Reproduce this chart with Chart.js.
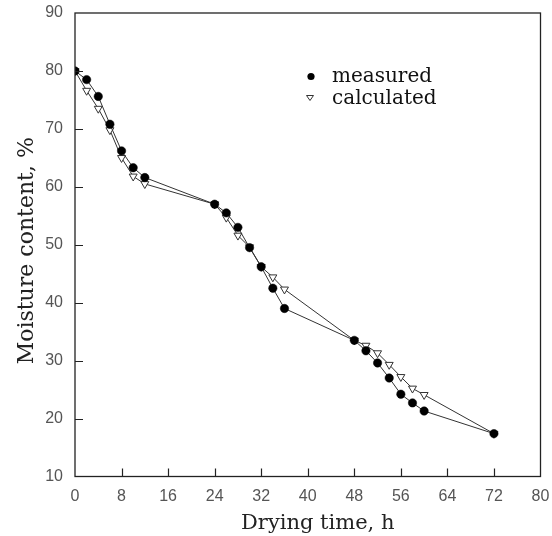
<!DOCTYPE html>
<html><head><meta charset="utf-8">
<script src="https://cdn.jsdelivr.net/npm/chart.js@4/dist/chart.umd.min.js"></script>
<style>html,body{margin:0;padding:0;background:#fff}#wrap{position:relative;width:552px;height:536px}</style>
</head><body><div id="wrap"><canvas id="c" width="552" height="536"></canvas></div>
<script>
// Data
const timeH = [0, 2, 4, 6, 8, 10, 12, 24, 26, 28, 30, 32, 34, 36, 48, 50, 52, 54, 56, 58, 60, 72];
const measured = [80, 78.5, 75.6, 70.8, 66.2, 63.3, 61.6, 57, 55.5, 53, 49.5, 46.2, 42.5, 39, 33.5, 31.7, 29.6, 27, 24.2, 22.7, 21.3, 17.4];
const calculated = [80, 76.6, 73.5, 69.8, 65, 61.8, 60.5, 57, 54.7, 51.6, 49.6, 46.2, 44.4, 42.3, 33.5, 32.6, 31.3, 29.3, 27.2, 25.2, 24.1, 17.4];
const seriesNames = ['measured', 'calculated'];
const xTitle = 'Drying time, h';
const yTitle = 'Moisture content, %';
const xRange = [0, 80, 8];
const yRange = [10, 90, 10];

const serif = "'DejaVu Serif', serif";
const sans = "'Liberation Sans', Arial, sans-serif";
const ink = '#222';

function pts(ys) { return timeH.map((t, i) => ({ x: t, y: ys[i] })); }

const frameAndTicks = {
  id: 'frameAndTicks',
  afterDraw(chart) {
    const { ctx, chartArea: a, scales } = chart;
    ctx.save();
    ctx.strokeStyle = ink;
    ctx.lineWidth = 1.3;
    ctx.strokeRect(a.left, a.top, a.right - a.left, a.bottom - a.top);
    ctx.lineWidth = 1.2;
    ctx.beginPath();
    scales.x.ticks.forEach(t => {
      if (t.value === xRange[0] || t.value === xRange[1]) return;
      const px = Math.round(scales.x.getPixelForValue(t.value)) + 0.5;
      ctx.moveTo(px, a.bottom); ctx.lineTo(px, a.bottom - 8);
    });
    scales.y.ticks.forEach(t => {
      if (t.value === yRange[0] || t.value === yRange[1]) return;
      const py = Math.round(scales.y.getPixelForValue(t.value)) + 0.5;
      ctx.moveTo(a.left, py); ctx.lineTo(a.left + 8, py);
    });
    ctx.stroke();
    // axis titles
    ctx.fillStyle = ink;
    ctx.textBaseline = 'alphabetic';
    ctx.textAlign = 'center';
    ctx.font = "21px " + serif;
    ctx.fillText(xTitle, (a.left + a.right) / 2 + 10, 529);
    ctx.save();
    ctx.translate(33, (a.top + a.bottom) / 2 + 6);
    ctx.rotate(-Math.PI / 2);
    ctx.font = "22px " + serif;
    ctx.fillText(yTitle, 0, 0);
    ctx.restore();
    // legend
    ctx.fillStyle = '#000';
    ctx.beginPath(); ctx.arc(311, 76.5, 3.6, 0, Math.PI * 2); ctx.fill();
    ctx.lineWidth = 1;
    ctx.strokeStyle = '#333';
    ctx.beginPath();
    ctx.moveTo(306.5, 95.5); ctx.lineTo(313.5, 95.5); ctx.lineTo(310, 100.5); ctx.closePath(); ctx.stroke();
    ctx.fillStyle = '#111';
    ctx.font = "20px " + serif;
    ctx.textAlign = 'left';
    ctx.fillText(seriesNames[0], 332, 82);
    ctx.fillText(seriesNames[1], 332, 103.5);
    ctx.restore();
  }
};

new Chart(document.getElementById('c'), {
  type: 'scatter',
  data: {
    datasets: [
      {
        label: seriesNames[0], data: pts(measured), showLine: true, tension: 0,
        borderColor: '#333', borderWidth: 1, pointStyle: 'circle', pointRadius: 4.2,
        pointBackgroundColor: '#000', pointBorderColor: '#000', pointBorderWidth: 0.5, order: 0
      },
      {
        label: seriesNames[1], data: pts(calculated), showLine: true, tension: 0,
        borderColor: '#333', borderWidth: 1, pointStyle: 'triangle', rotation: 180, pointRadius: 4.6,
        pointBackgroundColor: '#fff', pointBorderColor: '#333', pointBorderWidth: 1, order: 1
      }
    ]
  },
  options: {
    responsive: false, animation: false, devicePixelRatio: 1,
    layout: { padding: { left: 0, right: 11.5, top: 13, bottom: 0 } },
    plugins: { legend: { display: false }, tooltip: { enabled: false } },
    scales: {
      x: {
        type: 'linear', min: xRange[0], max: xRange[1],
        ticks: { stepSize: xRange[2], color: '#555', font: { family: sans, size: 16 }, padding: 10 },
        grid: { drawOnChartArea: false, drawTicks: false },
        border: { display: false },
        title: { display: false },
        afterFit(s) { s.height = 59.5; s.paddingLeft = 0; s.paddingRight = 0; }
      },
      y: {
        type: 'linear', min: yRange[0], max: yRange[1],
        ticks: { stepSize: yRange[2], color: '#555', font: { family: sans, size: 16 }, padding: 12 },
        grid: { drawOnChartArea: false, drawTicks: false },
        border: { display: false },
        title: { display: false },
        afterFit(s) { s.width = 75; s.paddingTop = 0; s.paddingBottom = 0; }
      }
    }
  },
  plugins: [frameAndTicks]
});
</script></body></html>
